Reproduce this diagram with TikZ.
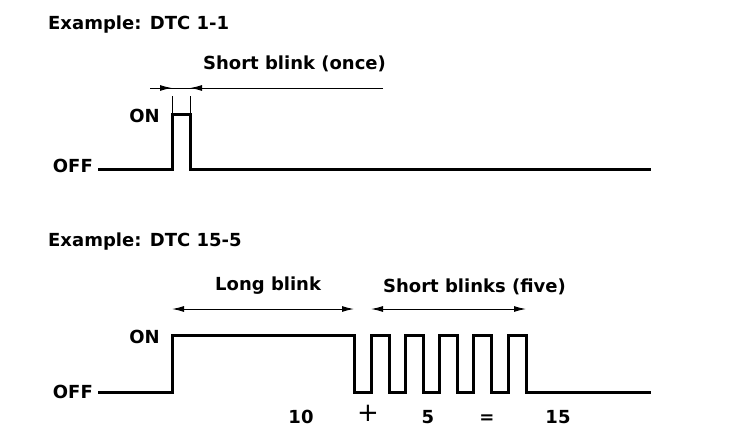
\documentclass[tikz,border=0pt]{standalone}
\usepackage{fontspec}
\setmainfont{DejaVu Sans}[BoldFont={DejaVu Sans Bold}]
\newfontfamily\dvbold{DejaVu Sans Bold}
\usetikzlibrary{arrows.meta}
\begin{document}
\begin{tikzpicture}[
    x=1pt, y=-1pt,
    lbl/.style={font=\dvbold\fontsize{18}{20}\selectfont, inner sep=0pt},
    sign/.style={font=\fontsize{26}{28}\selectfont, inner sep=0pt},
    signal/.style={line width=3pt, line join=miter},
    dim/.style={line width=1pt},
    tip/.style={-{Latex[length=12pt,width=6pt]}, line width=1pt},
    both/.style={{Latex[length=12pt,width=6pt]}-{Latex[length=12pt,width=6pt]}, line width=1pt},
    ext/.style={line width=0.9pt},
]
\useasboundingbox (0,0) rectangle (736,436);

% --- Example: DTC 1-1
\node[lbl, anchor=base west] (title1) at (48,30) {Example: DTC 1-1};
\node[lbl, anchor=base west] (once) at (203,70) {Short blink (once)};
\node[lbl, anchor=base east] (on1) at (160,122) {ON};
\node[lbl, anchor=base east] (off1) at (93,172) {OFF};

\coordinate (a0) at (98,169);
\coordinate (a1) at (172,169);
\coordinate (a2) at (172,114);
\coordinate (a3) at (190,114);
\coordinate (a4) at (190,169);
\coordinate (a5) at (651,169);
\draw[signal] (a0) -- (a1) -- (a2) -- (a3) -- (a4) -- (a5);

\coordinate (d1L) at (150,88);
\coordinate (d1a) at (172,88);
\coordinate (d1b) at (190,88);
\coordinate (d1R) at (383,88);
\draw[ext] ([yshift=-8pt]d1a) -- (a2);
\draw[ext] ([yshift=-8pt]d1b) -- (a3);
\draw[dim] (d1L) -- (d1R);
\draw[tip] (d1L) -- (d1a);
\draw[tip] (d1R) -- (d1b);

% --- Example: DTC 15-5
\node[lbl, anchor=base west] (title2) at (48,246) {Example: DTC 15-5};
\node[lbl, anchor=base west] (long) at (215,290) {Long blink};
\node[lbl, anchor=base west] (short) at (383,292) {Short blinks (five)};
\node[lbl, anchor=base east] (on2) at (160,343) {ON};
\node[lbl, anchor=base east] (off2) at (93,398) {OFF};

\coordinate (b0) at (98,392);
\coordinate (b1) at (172,335);
\coordinate (b2) at (354,335);
\coordinate (b3) at (371,335);
\coordinate (b4) at (526,335);
\coordinate (b5) at (651,392);
\draw[signal] (b0) -- (b1 |- b0) -- (b1) -- (b2) -- (b2 |- b0)
    foreach \x in {371,405.25,439.5,473.75,508} {
      -- (\x,392) -- (\x,335) -- (\x+18,335) -- (\x+18,392)
    } -- (b5);

\foreach \c in {b1,b2,b3,b4}
  \draw[ext] ([yshift=-33pt]\c) -- (\c);

\coordinate (d2a) at (172,309);
\coordinate (d2b) at (354,309);
\coordinate (d2c) at (371,309);
\coordinate (d2d) at (526,309);
\draw[both] (d2a) -- (d2b);
\draw[both] (d2c) -- (d2d);

\node[lbl, anchor=base] (ten) at (301,423) {10};
\node[sign] (plus) at (368,413) {+};
\node[lbl, anchor=base] (five) at (428,423) {5};
\node[lbl, anchor=base] (eq) at (487,423) {=};
\node[lbl, anchor=base] (fifteen) at (558,423) {15};
\end{tikzpicture}
\end{document}
